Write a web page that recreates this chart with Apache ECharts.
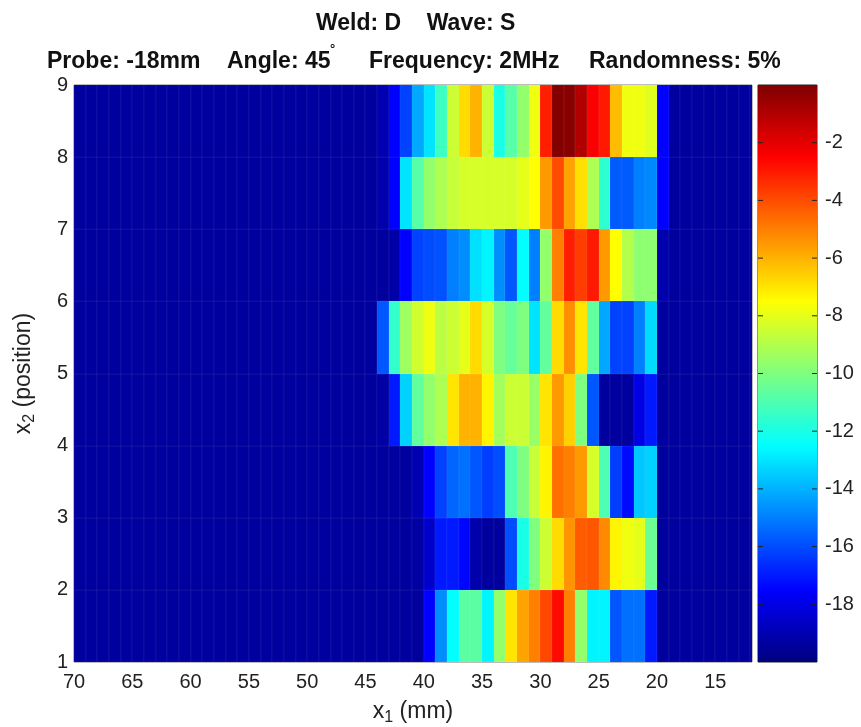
<!DOCTYPE html>
<html><head><meta charset="utf-8">
<style>html,body{margin:0;padding:0;background:#fff}#c{width:861px;height:727px}</style>
<script src="https://cdn.jsdelivr.net/npm/echarts@6/dist/echarts.min.js"></script>
</head><body><div id="c"></div>
<script>
// Column left edge (mm), decreasing; first listed column of the rows below sits at 44 mm
const firstEdge = 70, lastEdge = 12, rowsStartEdge = 44;
const background = -19.4;
const row8 = [-19,-17.5,-16.2,-14.2,-13,-11.3,-8.5,-6.8,-6,-8.5,-12,-10.8,-9.6,-7.8,-3.1,-0.1,-0.2,-1,-2.4,-3,-6.2,-7.8,-7.8,-8.1,-17.5];
const row7 = [-19.1,-17.5,-13,-10.8,-9.6,-9.1,-8.6,-8.3,-8.3,-8.3,-8.3,-8.3,-8,-7.5,-5.5,-4,-5.7,-6.9,-9.1,-11.6,-15.7,-15.7,-15,-14.8,-17.5];
const row6 = [-19.4,-19.2,-17.5,-16.2,-16,-15.9,-15,-14.7,-13.1,-12.7,-14.7,-15.8,-12.5,-15,-9.6,-5,-3.1,-3.7,-3,-5.5,-7.5,-9,-9.7,-9.7,-19.1];
const row5 = [-15.8,-11.5,-9.4,-8.4,-7.8,-8.8,-8.5,-8,-6.8,-8.3,-10,-10.5,-10,-13,-10.6,-6.8,-5.3,-7,-10.6,-14.2,-16.2,-16.2,-15,-13.2,-19.4];
const row4 = [-19.3,-17,-13.4,-10.6,-9.6,-9.1,-7,-6,-6,-7.3,-9.3,-8.5,-8.5,-9.5,-7,-5.5,-6.6,-10,-15.8,-19.4,-19.4,-19.4,-18,-17,-19.4];
const row3 = [-19.4,-19.4,-19.4,-19,-17.5,-16.2,-15.5,-15.3,-15.8,-16.3,-16,-11,-10,-8.6,-7.3,-4.7,-5,-5.5,-8.3,-11,-16.3,-17.3,-13.6,-13.4,-19.4];
const row2 = [-19.4,-19.4,-19.4,-19.3,-18.5,-17,-17,-17.4,-19.1,-19.4,-19.4,-16,-12,-10,-8.5,-6.8,-5.4,-4.3,-4.2,-5.2,-7.3,-7.8,-8,-10.4,-19.4];
const row1 = [-19.4,-19.4,-19.4,-19.4,-17.5,-14.7,-12.5,-10.7,-10.7,-12.7,-9.6,-7,-5.7,-5,-3.9,-2.7,-5,-9.6,-12.7,-12.7,-15.8,-15.3,-15.3,-17,-19.4];
const rows = [row1,row2,row3,row4,row5,row6,row7,row8];
const jet = ['#00007f','#0000ff','#007fff','#00ffff','#7fff7f','#ffff00','#ff7f00','#ff0000','#7f0000'];
const colorMin = -20, colorMax = 0;
const xTicks = [70,65,60,55,50,45,40,35,30,25,20,15];
const barTicks = [-18,-16,-14,-12,-10,-8,-6,-4,-2];

const cells = [];
rows.forEach((r,i)=>{
  for(let e=firstEdge;e>lastEdge-1;e--){
    const idx = rowsStartEdge-e;
    const v = (idx>=0 && idx<r.length) ? r[idx] : background;
    cells.push([e,e-1,i+1,i+2,v]);
  }
});
const rect = (params,api)=>{
  const p0 = api.coord([api.value(0),api.value(2)]);
  const p1 = api.coord([api.value(1),api.value(3)]);
  const cs = params.coordSys;
  const shape = echarts.graphic.clipRectByRect(
    {x:Math.min(p0[0],p1[0]),y:Math.min(p0[1],p1[1]),width:Math.abs(p1[0]-p0[0]),height:Math.abs(p1[1]-p0[1])},
    {x:cs.x,y:cs.y,width:cs.width,height:cs.height});
  if(!shape) return shape;
  // snap to whole pixels so neighbouring cells leave no seam
  const x0=Math.round(shape.x),x1=Math.round(shape.x+shape.width),y0=Math.round(shape.y),y1=Math.round(shape.y+shape.height);
  return {type:'rect',shape:{x:x0,y:y0,width:x1-x0,height:y1-y0}};
};
const font = '"Liberation Sans",Arial,sans-serif';
const dark = '#222';
const titleStyle = {fontFamily:font,fontSize:23,fontWeight:'bold',color:'#111'};
const chart = echarts.init(document.getElementById('c'),null,{renderer:'canvas'});
chart.setOption({
  animation:false,
  backgroundColor:'#fff',
  title:[
    {text:'Weld: D    Wave: S',left:311,top:7,textStyle:titleStyle},
    {text:'Probe: -18mm',left:42,top:45,textStyle:titleStyle},
    {text:'Angle: 45',left:222,top:45,textStyle:titleStyle},
    {text:'°',left:325,top:38,textStyle:{fontFamily:font,fontSize:13,color:'#111'}},
    {text:'Frequency: 2MHz',left:364,top:45,textStyle:titleStyle},
    {text:'Randomness: 5%',left:584,top:45,textStyle:titleStyle}
  ],
  grid:[
    {left:74,top:85,width:678,height:577,show:true,borderColor:'#777',borderWidth:1,backgroundColor:'#00007f',outerBoundsMode:'none'},
    {left:758,top:85,width:59,height:577,show:true,borderColor:'#222',borderWidth:1,outerBoundsMode:'none'}
  ],
  xAxis:[
    {type:'value',gridIndex:0,inverse:true,min:11.85,max:70,
     axisLine:{show:false},axisTick:{show:false},splitLine:{show:false},
     axisLabel:{fontFamily:font,fontSize:20,color:dark,margin:10,customValues:xTicks},
     name:'x{s|1} (mm)',nameLocation:'middle',nameGap:36,
     nameTextStyle:{fontFamily:font,fontSize:23,color:dark,rich:{s:{fontFamily:font,fontSize:16,color:dark,padding:[12,0,0,0]}}}},
    {type:'value',gridIndex:1,min:0,max:1,show:false}
  ],
  yAxis:[
    {type:'value',gridIndex:0,min:1,max:9,interval:1,
     axisLine:{show:false},axisTick:{show:false},splitLine:{show:false},
     axisLabel:{fontFamily:font,fontSize:20,color:dark,margin:6},
     name:'x{s|2} (position)',nameLocation:'middle',nameGap:36,
     nameTextStyle:{fontFamily:font,fontSize:23,color:dark,rich:{s:{fontFamily:font,fontSize:16,color:dark,padding:[12,0,0,0]}}}},
    {type:'value',gridIndex:1,position:'right',min:colorMin,max:colorMax,z:5,
     axisLine:{show:false},axisTick:{show:false},splitLine:{show:false},
     axisLabel:{fontFamily:font,fontSize:20,color:dark,margin:8,customValues:barTicks}}
  ],
  visualMap:{show:false,type:'continuous',seriesIndex:0,dimension:4,min:colorMin,max:colorMax,inRange:{color:jet}},
  series:[
    {type:'custom',xAxisIndex:0,yAxisIndex:0,data:cells,encode:{x:[0,1],y:[2,3]},silent:true,
     renderItem:(params,api)=>{
       const r = rect(params,api); if(!r) return r;
       r.style = {fill:api.visual('color'),stroke:'rgba(255,255,255,0.06)',lineWidth:1};
       return r;
     }},
    {type:'custom',xAxisIndex:1,yAxisIndex:1,data:[[0,1,colorMin,colorMax]],encode:{x:[0,1],y:[2,3]},silent:true,z:2,
     renderItem:(params,api)=>{
       const r = rect(params,api); if(!r) return r;
       r.style = {fill:new echarts.graphic.LinearGradient(0,1,0,0,jet.map((c,i)=>({offset:i/(jet.length-1),color:c})))};
       return r;
     }},
    {type:'custom',xAxisIndex:1,yAxisIndex:1,data:barTicks.map(v=>[v]),encode:{y:0},silent:true,z:3,
     renderItem:(params,api)=>{
       const y = api.coord([0,api.value(0)])[1];
       const cs = params.coordSys;
       const st = {stroke:'#222',lineWidth:1};
       return {type:'group',children:[
         {type:'line',shape:{x1:cs.x,y1:y,x2:cs.x+5,y2:y},style:st},
         {type:'line',shape:{x1:cs.x+cs.width-5,y1:y,x2:cs.x+cs.width,y2:y},style:st}
       ]};
     }}
  ]
});
</script></body></html>
